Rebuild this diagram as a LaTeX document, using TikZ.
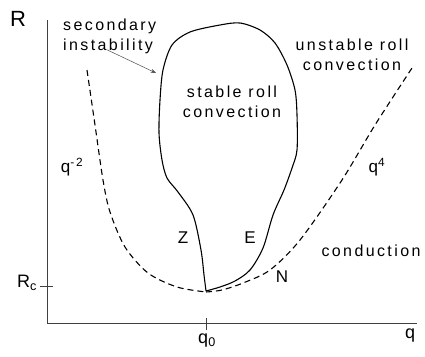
\documentclass[tikz,border=0pt]{standalone}
\usepackage{fontspec}
\setmainfont[LetterSpace=15]{Liberation Sans}
\usetikzlibrary{arrows.meta,positioning}

\begin{document}
\begin{tikzpicture}[x=1pt,y=-1pt,>=Stealth,
 lbl/.style={inner sep=0pt,font=\fontsize{16}{20}\selectfont},
 branch/.style={inner sep=0pt,font=\fontsize{17}{20}\selectfont},
 axis/.style={line width=1pt,black!75},
 neutral/.style={dashed,line width=1.1pt,dash pattern=on 6pt off 4pt},
 stab/.style={line width=1.1pt}]
\useasboundingbox (0,0) rectangle (425,356);
\coordinate (origin) at (47,323);
\coordinate (ytop) at (47,20);
\coordinate (xend) at (417,323);
\coordinate (rc) at (47,286);
\coordinate (q0) at (206,323);
\draw[axis] (ytop) -- (origin) -- (xend);
\draw[axis] ([xshift=-7pt]rc) -- ([xshift=6pt]rc);
\draw[axis] ([yshift=-7pt]q0) -- ([yshift=5pt]q0);
\node[inner sep=0pt,font=\fontsize{22}{24}\selectfont] (rlab) at (18,19) {R};
\node[lbl,font=\fontsize{18}{20}\selectfont] (rclab) at (27,283) {R\textsubscript{c}};
\node[lbl,font=\fontsize{18}{20}\selectfont] (q0lab) at (207,341) {q\textsubscript{0}};
\node[lbl,font=\fontsize{18}{20}\selectfont] (qlab) at (410,336) {q};
\draw[neutral] plot[smooth] coordinates {(87,70) (95,125) (103,180) (110,212) (125,247) (148,273) (177,287) (206,292)};
\draw[neutral] plot[smooth] coordinates {(206,292) (222,290) (243,283) (270,270) (300,240) (342,180) (375,125) (412,68)};
\draw[stab] plot[smooth] coordinates {(206,291) (204,275) (201,250) (193,215) (178,192) (167,178) (162,160) (159,133) (160,100) (163,70) (172,45) (190,32) (220,25) (240,23) (260,30) (275,43) (287,65) (295,90) (297,115) (297,150) (292,168) (284,190) (273,215) (263,248) (250,270) (235,281) (220,287) (206,291)};
\node[lbl,align=left,anchor=west] (secinst) at (63,36) {secondary\\instability};
\coordinate (blobleft) at (156,73);
\draw[->,line width=0.5pt,black!70] ([xshift=-3pt,yshift=4pt]secinst.south) -- (blobleft);
\node[lbl,align=center] (stable) at (232,102) {stable roll\\convection};
\node[lbl,align=center] (unstable) at (352,55) {unstable roll\\convection};
\node[lbl] (cond) at (371,251) {conduction};
\node[lbl,font=\fontsize{17}{20}\selectfont] (qm2) at (72,167) {q\textsuperscript{-2}};
\node[lbl,font=\fontsize{17}{20}\selectfont] (q4) at (377,167) {q\textsuperscript{4}};
\node[branch] (zlab) at (183,238) {Z};
\node[branch] (elab) at (250,238) {E};
\node[branch] (nlab) at (282,277) {N};
\end{tikzpicture}
\end{document}
